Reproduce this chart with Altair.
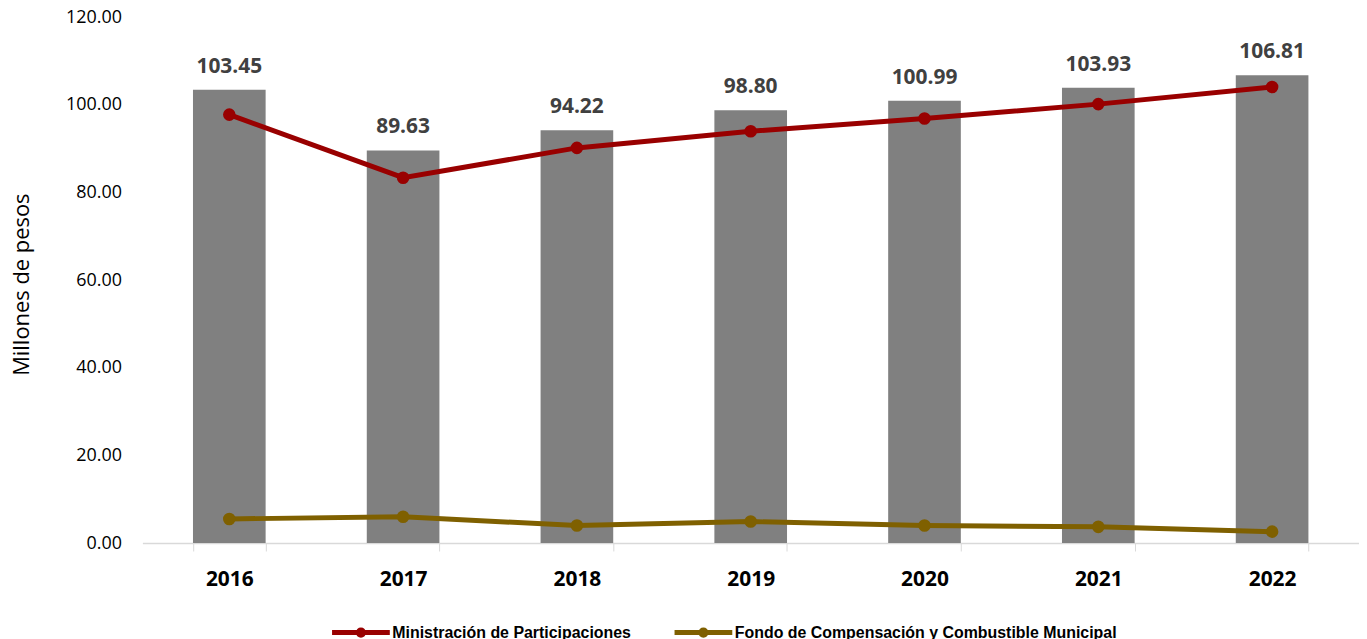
import altair as alt
import pandas as pd

years = ["2016", "2017", "2018", "2019", "2020", "2021", "2022"]
totals = [103.45, 89.63, 94.22, 98.80, 100.99, 103.93, 106.81]
ministracion = [97.8, 83.4, 90.2, 94.0, 96.9, 100.2, 104.1]
fondo = [5.5, 6.0, 4.0, 4.9, 4.0, 3.7, 2.6]

series_names = ["Ministración de Participaciones",
                "Fondo de Compensación y Combustible Municipal"]
series_colors = ["#990000", "#7F6000"]

bars_df = pd.DataFrame({"year": years, "total": totals})
lines_df = pd.DataFrame({
    "year": years * 2,
    "value": ministracion + fondo,
    "serie": [series_names[0]] * len(years) + [series_names[1]] * len(years),
})

PLOT_W = 1222
PLOT_H = 528
FONT = "Open Sans"

x_axis = alt.Axis(
    title=None,
    labelFont=FONT,
    labelFontSize=21,
    labelFontWeight="bold",
    labelColor="#000000",
    labelBaseline="middle",
    labelPadding=29,
    labelAngle=0,
    tickBand="extent",
    tickSize=8,
    tickColor="#d9d9d9",
    domainColor="#d9d9d9",
    domainWidth=1.5,
    grid=False,
)
x_enc = alt.X(
    "year:N",
    sort=years,
    scale=alt.Scale(paddingInner=0.582, paddingOuter=0.291),
    axis=x_axis,
)

y_scale = alt.Scale(domain=[0, 120], nice=False)
y_axis = alt.Axis(
    title="Millones de pesos",
    values=[0, 20, 40, 60, 80, 100, 120],
    format=".2f",
    labelFont=FONT,
    labelFontSize=18,
    labelColor="#000000",
    labelPadding=21,
    labelBaseline="middle",
    ticks=False,
    domain=False,
    grid=False,
    titleFont=FONT,
    titleFontSize=22,
    titleFontWeight="normal",
    titleColor="#000000",
    titleAngle=-90,
    titleX=-121,
    titleY=268,
    titleAlign="center",
    titleBaseline="middle",
)

bars = alt.Chart(bars_df).mark_bar(color="#808080").encode(
    x=x_enc,
    y=alt.Y("total:Q", scale=y_scale, axis=y_axis),
)

bar_labels = alt.Chart(bars_df).mark_text(
    font=FONT, fontSize=21, fontWeight="bold", color="#404040",
    baseline="alphabetic", dy=-17,
).encode(
    x=x_enc,
    y=alt.Y("total:Q", scale=y_scale, axis=y_axis),
    text=alt.Text("total:Q", format=".2f"),
)

color_scale = alt.Scale(domain=series_names, range=series_colors)

lines = alt.Chart(lines_df).mark_line(strokeWidth=5).encode(
    x=x_enc,
    y=alt.Y("value:Q", scale=y_scale, axis=y_axis),
    color=alt.Color(
        "serie:N",
        scale=color_scale,
        legend=alt.Legend(
            title=None,
            orient="none",
            direction="horizontal",
            legendX=188,
            legendY=586,
            symbolType="M-1,0H1M0.09,0A0.09,0.09,0,1,1,-0.09,0A0.09,0.09,0,1,1,0.09,0",
            symbolSize=3364,
            symbolStrokeWidth=5,
            labelFont="Liberation Sans",
            labelFontSize=16,
            labelFontWeight="bold",
            labelColor="#000000",
            labelOffset=0,
            labelLimit=0,
            columnPadding=32,
        ),
    ),
    detail="serie:N",
)

points = alt.Chart(lines_df).mark_circle(size=160, opacity=1).encode(
    x=x_enc,
    y=alt.Y("value:Q", scale=y_scale, axis=y_axis),
    color=alt.Color("serie:N", scale=color_scale, legend=None),
)

chart = alt.layer(bars, bar_labels, lines, points).properties(
    width=PLOT_W,
    height=PLOT_H,
    background="white",
    autosize=alt.AutoSizeParams(type="none"),
    padding={"left": 135, "top": 8, "right": 0, "bottom": 100},
).configure_view(stroke=None, strokeWidth=0)

chart.save("out.html", embed_options={"renderer": "svg", "actions": False})
